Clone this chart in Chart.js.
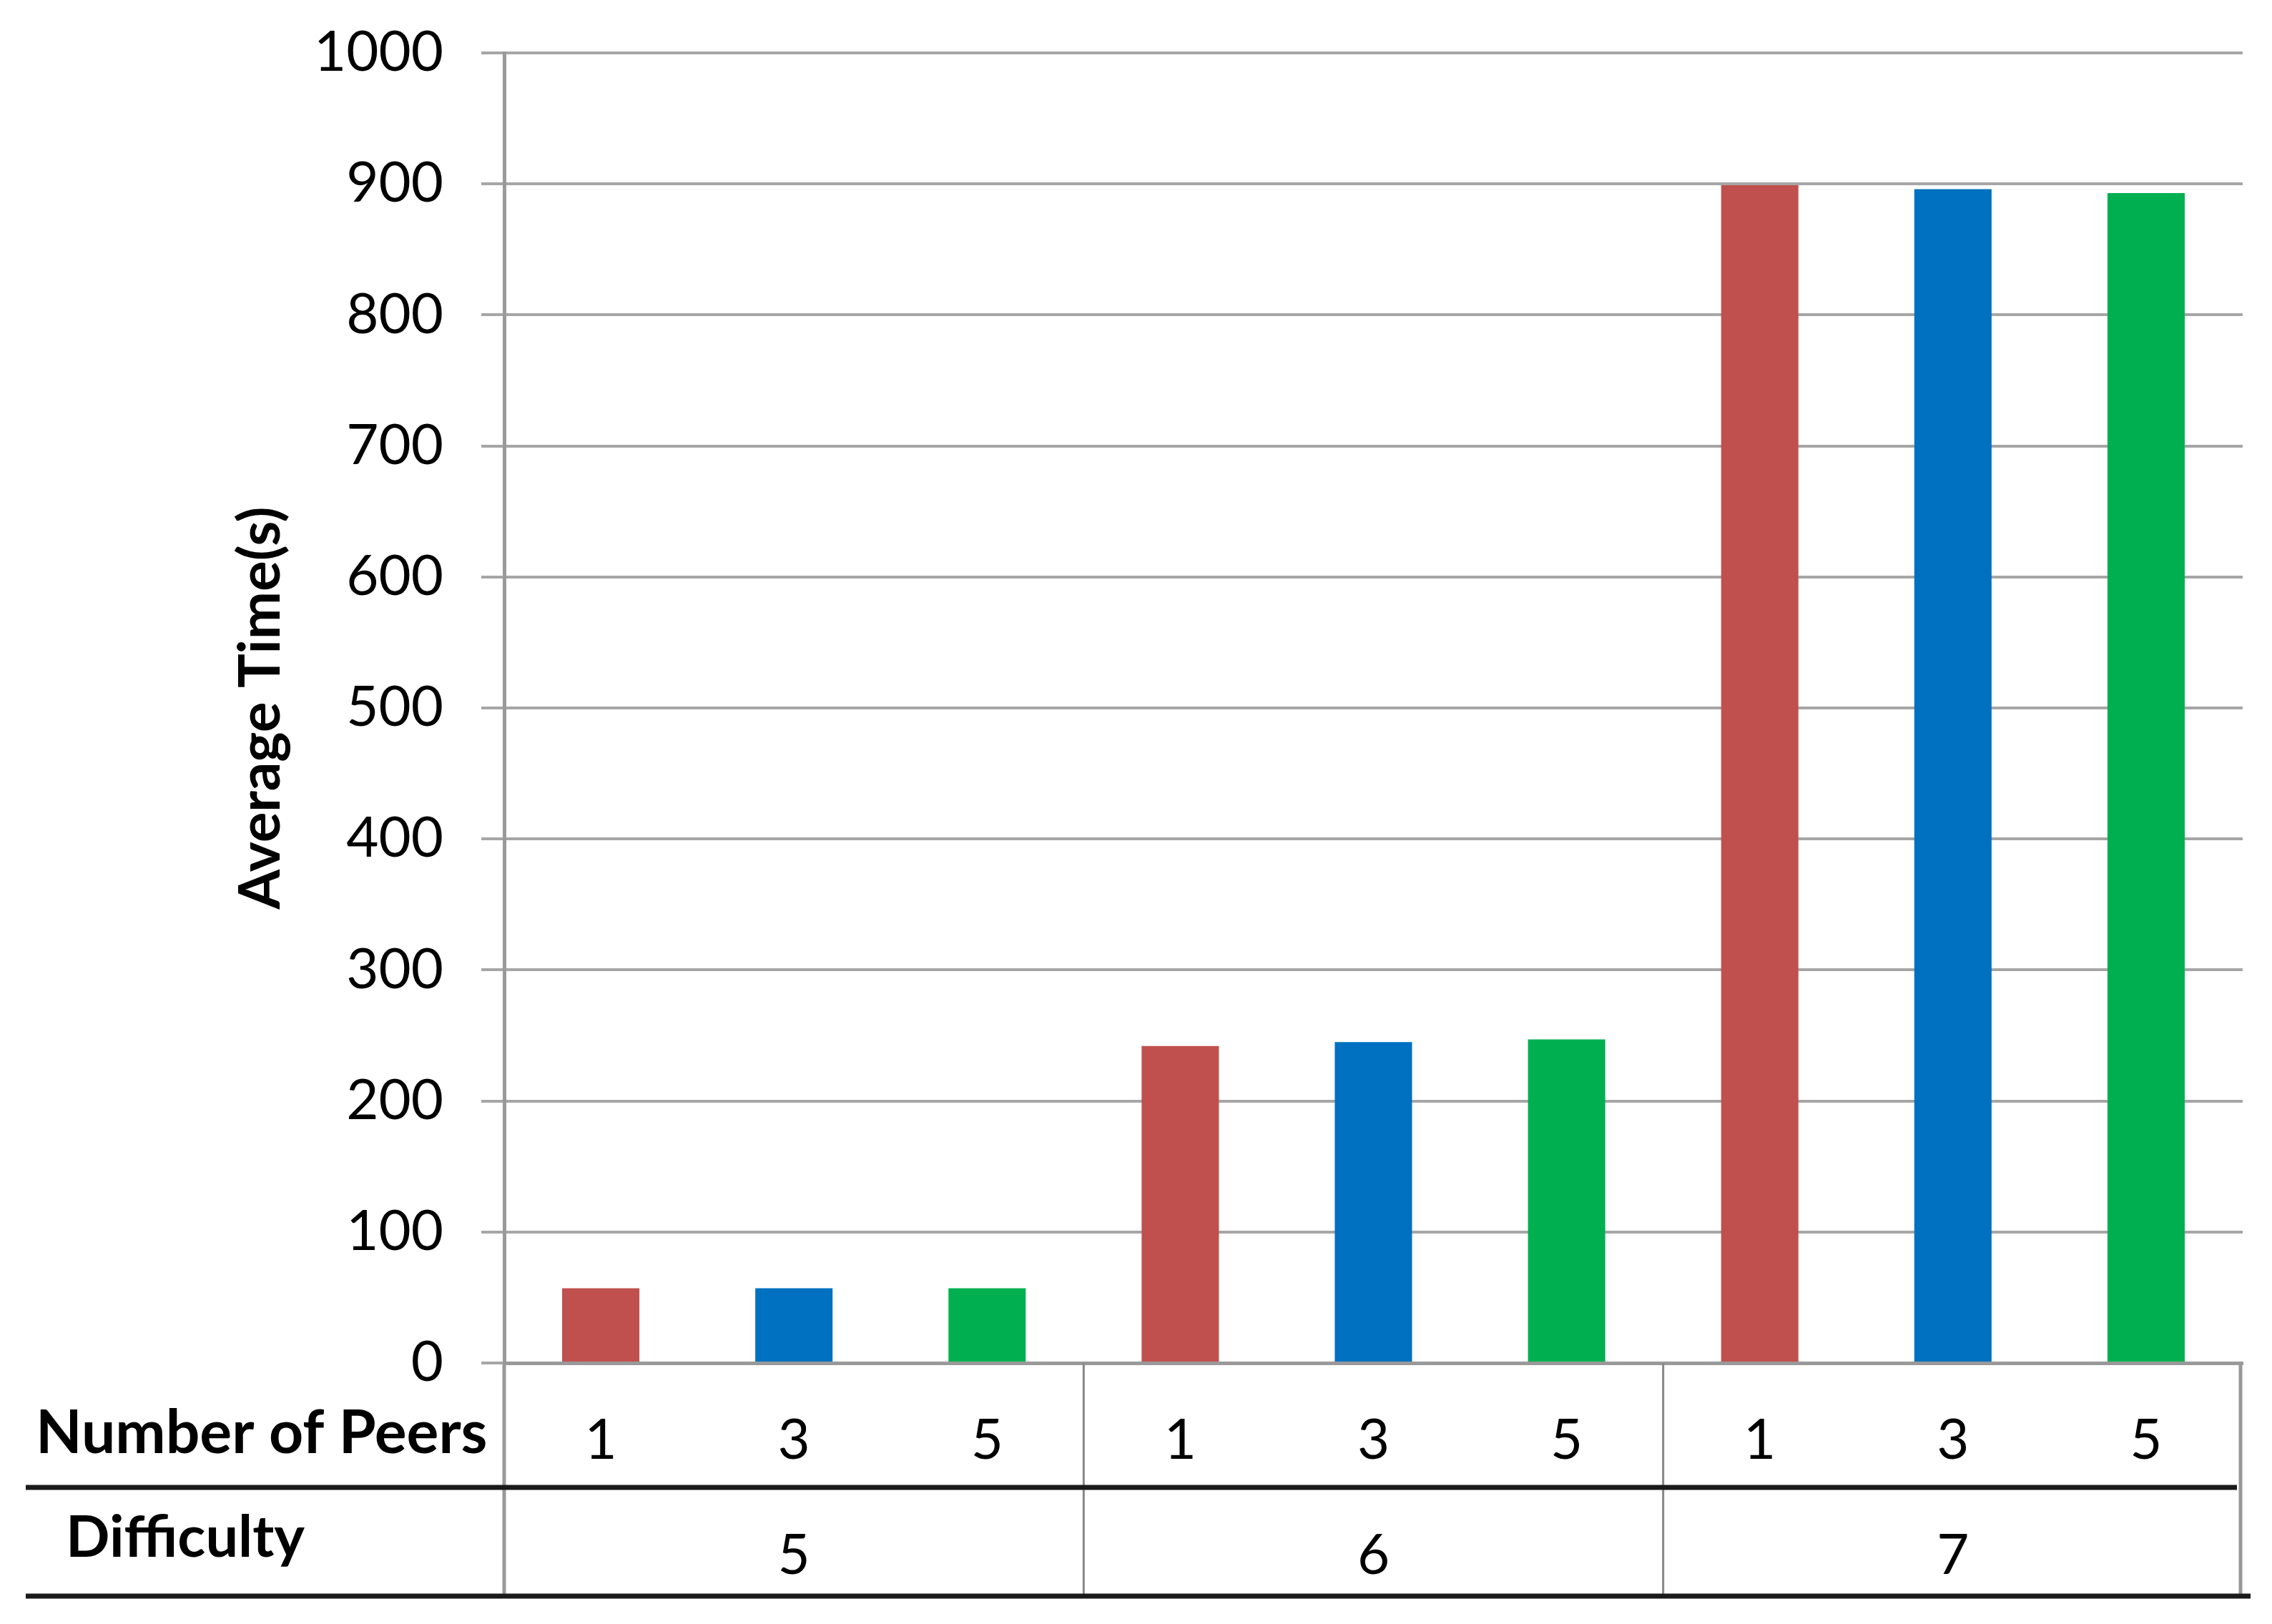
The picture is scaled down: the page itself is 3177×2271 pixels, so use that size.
<!DOCTYPE html>
<html>
<head>
<meta charset="utf-8">
<title>Average Time by Difficulty and Number of Peers</title>
<script src="https://cdn.jsdelivr.net/npm/chart.js@4.4.1/dist/chart.umd.min.js"></script>
<style>
  html, body { margin: 0; padding: 0; background: #fff; }
  #wrap { width: 3177px; height: 2271px; position: relative; }
</style>
</head>
<body>
<div id="wrap"><canvas id="timeChart"></canvas></div>
<script>
// Data
const difficulties = ["5", "6", "7"];
const peerCounts = ["1", "3", "5"];
const onePeer = [57, 242, 899];
const threePeers = [57, 245, 896];
const fivePeers = [57, 247, 893];
const rowHeaders = ["Number of Peers", "Difficulty"];
const yTitle = "Average Time(s)";

const colors = ["#C0504D", "#0070C0", "#00B050"];
const FONT = "Lato";

// table under the plot: separators, thick rules and row headers
const tablePlugin = {
  id: "tableLines",
  afterDraw(chart) {
    const ctx = chart.ctx;
    const area = chart.chartArea;
    const x = chart.scales.x;
    const peers = chart.scales.peers;

    ctx.save();
    ctx.lineCap = "butt";

    // y axis continues down through the table
    ctx.strokeStyle = "#999999";
    ctx.lineWidth = 5;
    ctx.beginPath();
    ctx.moveTo(area.left, area.bottom);
    ctx.lineTo(area.left, x.bottom);
    ctx.moveTo(area.right - 3, area.bottom);
    ctx.lineTo(area.right - 3, x.bottom);
    ctx.stroke();

    // group separators
    ctx.strokeStyle = "#888888";
    ctx.lineWidth = 3;
    ctx.beginPath();
    for (let i = 0; i < difficulties.length - 1; i++) {
      const px = (x.getPixelForTick(i) + x.getPixelForTick(i + 1)) / 2;
      ctx.moveTo(px, area.bottom);
      ctx.lineTo(px, x.bottom);
    }
    ctx.stroke();

    // thick dark rules
    ctx.strokeStyle = "#1a1a1a";
    ctx.lineWidth = 7;
    ctx.beginPath();
    ctx.moveTo(36, peers.bottom);
    ctx.lineTo(area.right - 8, peers.bottom);
    ctx.moveTo(36, x.bottom);
    ctx.lineTo(area.right + 11, x.bottom);
    ctx.stroke();

    // row headers
    ctx.fillStyle = "#000";
    ctx.textAlign = "left";
    ctx.textBaseline = "alphabetic";
    ctx.font = "bold 84px " + FONT;
    ctx.fillText(rowHeaders[0], 50, 2032);
    ctx.font = "bold 81px " + FONT;
    ctx.fillText(rowHeaders[1], 92, 2177);
    ctx.restore();
  }
};

new Chart(document.getElementById("timeChart"), {
  type: "bar",
  data: {
    labels: difficulties,
    datasets: [
      { label: peerCounts[0] + " peer", data: onePeer, backgroundColor: colors[0], xAxisID: "x" },
      { label: peerCounts[1] + " peers", data: threePeers, backgroundColor: colors[1], xAxisID: "x" },
      { label: peerCounts[2] + " peers", data: fivePeers, backgroundColor: colors[2], xAxisID: "x" }
    ]
  },
  options: {
    responsive: true,
    maintainAspectRatio: false,
    animation: false,
    devicePixelRatio: 1,
    layout: { padding: { top: 74, right: 41, bottom: 39, left: 0 } },
    datasets: {
      bar: { categoryPercentage: 1.0, barPercentage: 0.4, borderWidth: 0 }
    },
    plugins: {
      legend: { display: false },
      tooltip: { enabled: false }
    },
    scales: {
      y: {
        min: 0,
        max: 1000,
        ticks: {
          stepSize: 100,
          padding: 53,
          color: "#000",
          font: { family: FONT, size: 78 },
          callback: (v) => String(v)
        },
        grid: {
          color: "#a6a6a6",
          lineWidth: 4,
          drawTicks: true,
          tickLength: 32
        },
        border: { display: true, color: "#999999", width: 5 },
        title: {
          display: true,
          text: yTitle,
          color: "#000",
          font: { family: FONT, size: 80, weight: "bold" },
          padding: { top: 317, bottom: 0 }
        },
        afterFit(scale) {
          scale.width = 705;
          scale.paddingTop = 0;
          scale.paddingBottom = 0;
        }
      },
      x: {
        type: "category",
        position: "bottom",
        weight: 1,
        offset: true,
        ticks: {
          padding: 49,
          color: "#000",
          maxRotation: 0,
          font: { family: FONT, size: 78 }
        },
        grid: { display: false, drawTicks: false, tickLength: 0 },
        border: { display: false },
        afterFit(scale) { scale.height = 152; }
      },
      peers: {
        type: "category",
        position: "bottom",
        weight: 0,
        offset: true,
        labels: difficulties.flatMap(() => peerCounts),
        ticks: {
          padding: 62,
          color: "#000",
          autoSkip: false,
          maxRotation: 0,
          font: { family: FONT, size: 78 }
        },
        grid: { display: false, drawTicks: false, tickLength: 0 },
        border: { display: true, color: "#999999", width: 5 },
        afterFit(scale) { scale.height = 174; }
      }
    }
  },
  plugins: [tablePlugin]
});
</script>
</body>
</html>
